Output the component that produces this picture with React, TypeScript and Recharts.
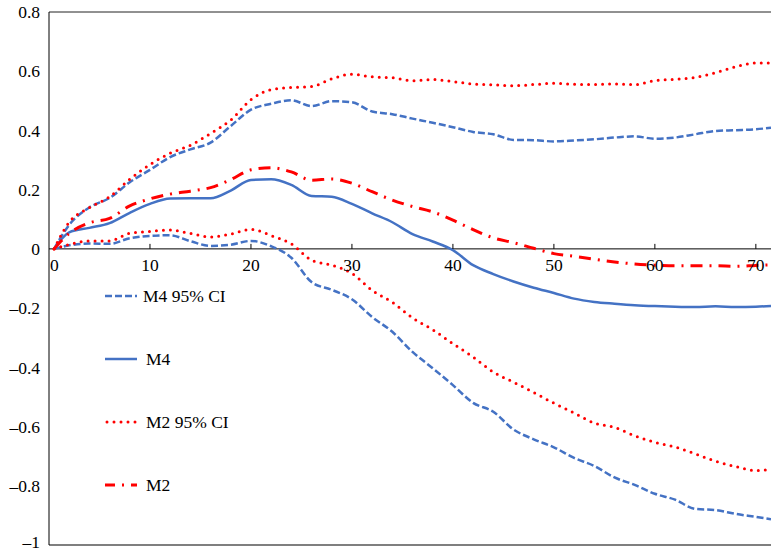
import { Legend, Line, LineChart, ReferenceLine, XAxis, YAxis } from "recharts";

const xs = [0.5, 2, 4, 6, 8, 10, 12, 14, 16, 18, 20, 22, 24, 26, 28, 30, 32, 34, 36, 38, 40, 42, 44, 46, 48, 50, 52, 54, 56, 58, 60, 62, 64, 66, 68, 70, 71.5];

const m4Ci = [0, 0.081, 0.14, 0.172, 0.225, 0.267, 0.31, 0.336, 0.359, 0.415, 0.47, 0.49, 0.502, 0.482, 0.499, 0.495, 0.464, 0.455, 0.44, 0.426, 0.411, 0.395, 0.387, 0.368, 0.367, 0.363, 0.366, 0.37, 0.376, 0.38, 0.372, 0.376, 0.387, 0.398, 0.401, 0.404, 0.409];
const m4CiLow = [0, 0.012, 0.018, 0.017, 0.036, 0.044, 0.046, 0.026, 0.01, 0.014, 0.027, 0.009, -0.03, -0.112, -0.138, -0.17, -0.23, -0.28, -0.348, -0.403, -0.46, -0.52, -0.55, -0.61, -0.643, -0.67, -0.706, -0.733, -0.772, -0.797, -0.827, -0.847, -0.878, -0.882, -0.895, -0.905, -0.913];
const m4 = [0, 0.056, 0.071, 0.087, 0.122, 0.152, 0.17, 0.171, 0.171, 0.197, 0.233, 0.235, 0.216, 0.179, 0.176, 0.152, 0.12, 0.09, 0.05, 0.025, -0.004, -0.055, -0.085, -0.11, -0.131, -0.149, -0.168, -0.179, -0.185, -0.19, -0.193, -0.195, -0.196, -0.194, -0.196, -0.195, -0.193];
const m2Ci = [0, 0.09, 0.139, 0.176, 0.235, 0.285, 0.323, 0.35, 0.39, 0.435, 0.504, 0.538, 0.545, 0.548, 0.574, 0.59, 0.581, 0.578, 0.568, 0.572, 0.565, 0.557, 0.554, 0.551, 0.555, 0.559, 0.556, 0.555, 0.557, 0.555, 0.568, 0.573, 0.579, 0.595, 0.615, 0.628, 0.628];
const m2CiLow = [0, 0.015, 0.027, 0.027, 0.053, 0.059, 0.064, 0.052, 0.04, 0.05, 0.066, 0.045, 0.017, -0.038, -0.055, -0.083, -0.14, -0.18, -0.233, -0.273, -0.32, -0.365, -0.416, -0.45, -0.485, -0.521, -0.554, -0.588, -0.603, -0.631, -0.653, -0.669, -0.692, -0.717, -0.735, -0.749, -0.744];
const m2 = [0, 0.052, 0.088, 0.103, 0.145, 0.169, 0.185, 0.195, 0.207, 0.234, 0.267, 0.274, 0.26, 0.232, 0.236, 0.222, 0.193, 0.165, 0.143, 0.125, 0.097, 0.065, 0.037, 0.021, 0.002, -0.016, -0.025, -0.035, -0.044, -0.051, -0.055, -0.057, -0.057, -0.057, -0.059, -0.056, -0.054];

const xTicks = [0, 10, 20, 30, 40, 50, 60, 70];
const yTicks = [-1, -0.8, -0.6, -0.4, -0.2, 0, 0.2, 0.4, 0.6, 0.8];

const BLUE = "#4472C4";
const RED = "#FF0000";
const FONT = "'Liberation Serif', 'DejaVu Serif', serif";
const FS = 17.5;

const W = 771;
const H = 552;
const TOP = 12;
const BOTTOM = 6;
const X_AXIS_H = 1;
const Y_MIN = -1;
const Y_MAX = 0.8;
const zeroY = TOP + ((H - TOP - BOTTOM - X_AXIS_H) * Y_MAX) / (Y_MAX - Y_MIN);

const data = xs.map((x, i) => ({
  x,
  m4Ci: m4Ci[i],
  m4CiLow: m4CiLow[i],
  m4: m4[i],
  m2Ci: m2Ci[i],
  m2CiLow: m2CiLow[i],
  m2: m2[i],
}));

const legendItems = [
  { label: "M4 95% CI", color: BLUE, dash: "7 3", width: 2.5, cap: "butt", gap: 6 },
  { label: "M4", color: BLUE, dash: undefined, width: 2.5, cap: "butt", gap: 9 },
  { label: "M2 95% CI", color: RED, dash: "0 7", width: 3, cap: "round", gap: 9 },
  { label: "M2", color: RED, dash: "10 7 2 7", width: 3, cap: "butt", gap: 9 },
];

function fmtY(v: number) {
  if (v === 0) return "0";
  const s = Math.abs(v).toString();
  return v < 0 ? "\u2013" + s : s;
}

function YTick(props: any) {
  const { x, y, payload } = props;
  const v = payload.value;
  return (
    <text
      x={x}
      y={v === Y_MIN ? y - 3 : y}
      dy="0.355em"
      textAnchor="end"
      fontFamily={FONT}
      fontSize={FS}
      fill="#000"
    >
      {fmtY(v)}
    </text>
  );
}

function XTick(props: any) {
  const { x, payload } = props;
  const v = payload.value;
  return (
    <g>
      {v !== 0 && <line x1={x} x2={x} y1={zeroY} y2={zeroY - 5} stroke="#000" />}
      <text
        x={v === 0 ? x + 1 : x}
        y={zeroY + 22}
        textAnchor={v === 0 ? "start" : "middle"}
        fontFamily={FONT}
        fontSize={FS}
        fill="#000"
      >
        {v}
      </text>
    </g>
  );
}

function LegendBox() {
  return (
    <div style={{ fontFamily: FONT, fontSize: FS, color: "#000" }}>
      {legendItems.map((it) => (
        <div key={it.label} style={{ display: "flex", alignItems: "center", height: 63 }}>
          <svg width={32} height={6}>
            <line
              x1={it.cap === "round" ? 2 : 0}
              x2={32}
              y1={3}
              y2={3}
              stroke={it.color}
              strokeWidth={it.width}
              strokeDasharray={it.dash}
              strokeLinecap={it.cap as any}
            />
          </svg>
          <span style={{ marginLeft: it.gap, lineHeight: "20px" }}>{it.label}</span>
        </div>
      ))}
    </div>
  );
}

export default function App() {
  return (
    <div style={{ position: "absolute", left: 0, top: 0, width: W, height: H, background: "#fff" }}>
      <LineChart width={W} height={H} data={data} margin={{ top: TOP, right: 0, bottom: BOTTOM, left: 0 }}>
        <XAxis
          dataKey="x"
          type="number"
          domain={[0, 71.5]}
          ticks={xTicks}
          interval={0}
          height={X_AXIS_H}
          tick={<XTick />}
          tickLine={false}
          axisLine={{ stroke: "#555", strokeWidth: 1.5 }}
          allowDataOverflow
        />
        <YAxis
          type="number"
          domain={[Y_MIN, Y_MAX]}
          ticks={yTicks}
          interval={0}
          width={49}
          tickLine={false}
          tickSize={0}
          tickMargin={9}
          axisLine={{ stroke: "#000" }}
          tick={<YTick />}
        />
        <ReferenceLine y={Y_MAX} stroke="#222" />
        <ReferenceLine y={0} stroke="#000" />
        <Line dataKey="m4Ci" type="monotone" stroke={BLUE} strokeWidth={2.5} strokeDasharray="7 3" dot={false} isAnimationActive={false} />
        <Line dataKey="m4CiLow" type="monotone" stroke={BLUE} strokeWidth={2.5} strokeDasharray="7 3" dot={false} isAnimationActive={false} />
        <Line dataKey="m4" type="monotone" stroke={BLUE} strokeWidth={2.5} dot={false} isAnimationActive={false} />
        <Line dataKey="m2Ci" type="monotone" stroke={RED} strokeWidth={3} strokeDasharray="0 7" strokeLinecap="round" dot={false} isAnimationActive={false} />
        <Line dataKey="m2CiLow" type="monotone" stroke={RED} strokeWidth={3} strokeDasharray="0 7" strokeLinecap="round" dot={false} isAnimationActive={false} />
        <Line dataKey="m2" type="monotone" stroke={RED} strokeWidth={3} strokeDasharray="12 7 2 7" dot={false} isAnimationActive={false} />
        <Legend
          layout="vertical"
          align="center"
          verticalAlign="middle"
          content={<LegendBox />}
          wrapperStyle={{ left: 105, top: 264, width: 200 }}
        />
      </LineChart>
    </div>
  );
}
